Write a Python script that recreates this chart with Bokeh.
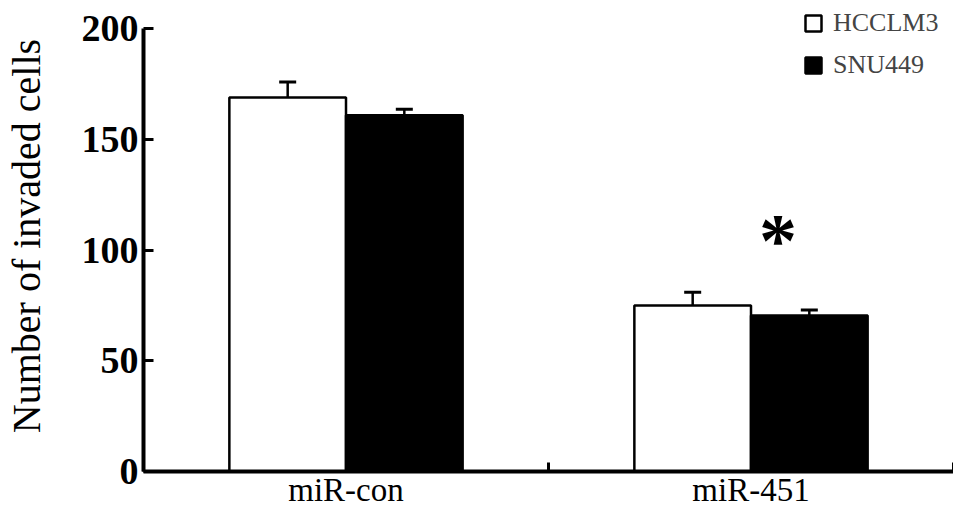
from bokeh.plotting import figure
from bokeh.models import (ColumnDataSource, Range1d, FixedTicker, Whisker, TeeHead,
                          Legend, LegendItem)
from bokeh.core.properties import value
from bokeh.embed import file_html
from bokeh.resources import INLINE

# ---- data ----
categories = ["miR-con", "miR-451"]
series_names = ["HCCLM3", "SNU449"]
hcclm3_mean = [169, 75]
hcclm3_err = [7, 6]
snu449_mean = [161, 70.5]
snu449_err = [2.7, 2.5]
significance = ["", "*"]
y_ticks = [0, 50, 100, 150, 200]
y_max = 200

FONT = "Liberation Serif"
bar_w = 0.288

centers = [i + 0.5 for i in range(len(categories))]

p = figure(width=953, height=510, output_backend="svg", toolbar_location=None,
           x_range=Range1d(0, len(categories)), y_range=Range1d(0, 212.8),
           min_border_left=141, min_border_right=0, min_border_top=0,
           min_border_bottom=36)
p.outline_line_color = None
p.xgrid.visible = False
p.ygrid.visible = False
p.background_fill_color = "white"
p.border_fill_color = "white"

src1 = ColumnDataSource(dict(x=[c - bar_w / 2 for c in centers], top=hcclm3_mean,
                             upper=[m + e for m, e in zip(hcclm3_mean, hcclm3_err)]))
src2 = ColumnDataSource(dict(x=[c + bar_w / 2 for c in centers], top=snu449_mean,
                             upper=[m + e for m, e in zip(snu449_mean, snu449_err)]))

r1 = p.vbar(x="x", top="top", width=bar_w, bottom=0, source=src1,
            fill_color="white", line_color="black", line_width=2.5)
r2 = p.vbar(x="x", top="top", width=bar_w, bottom=0, source=src2,
            fill_color="black", line_color="black", line_width=2.5)

for src in (src1, src2):
    w = Whisker(base="x", upper="upper", lower="top", source=src,
                line_color="black", line_width=2.5,
                upper_head=TeeHead(size=17, line_width=3, line_color="black"),
                lower_head=None, level="underlay")
    p.add_layout(w)

# significance marks
sig_src = ColumnDataSource(dict(
    x=centers,
    y=[max(a + b, c + d) for a, b, c, d in zip(hcclm3_mean, hcclm3_err, snu449_mean, snu449_err)],
    t=significance))
p.text(x="x", y="y", text="t", source=sig_src, text_font=value(FONT),
       text_font_size="76px", text_font_style="bold", text_align="center",
       text_baseline="alphabetic", x_offset=27, y_offset=-52, text_color="black")

# y axis
ya = p.yaxis[0]
ya.ticker = FixedTicker(ticks=y_ticks)
ya.bounds = (0, y_max)
ya.axis_line_width = 4
ya.major_tick_line_width = 3
ya.major_tick_in = 10
ya.major_tick_out = 0
ya.minor_tick_line_color = None
ya.minor_tick_in = 0
ya.minor_tick_out = 0
ya.major_label_text_font = FONT
ya.major_label_text_font_size = "38px"
ya.major_label_text_font_style = "bold"
ya.major_label_text_color = "black"
ya.major_label_standoff = 5
ya.axis_label = "Number of invaded cells"
ya.axis_label_text_font = FONT
ya.axis_label_text_font_size = "40px"
ya.axis_label_text_font_style = "normal"
ya.axis_label_text_color = "black"
ya.axis_label_standoff = 30

# x axis
xa = p.xaxis[0]
xa.ticker = FixedTicker(ticks=centers, minor_ticks=list(range(len(categories) + 1)))
xa.major_label_overrides = {c: name for c, name in zip(centers, categories)}
xa.axis_line_width = 4
xa.major_tick_line_color = None
xa.major_tick_in = 0
xa.major_tick_out = 0
xa.minor_tick_line_width = 3
xa.minor_tick_in = 9
xa.minor_tick_out = 0
xa.major_label_text_font = FONT
xa.major_label_text_font_size = "33px"
xa.major_label_text_color = "black"
xa.major_label_standoff = 0

legend = Legend(items=[LegendItem(label=series_names[0], renderers=[r1]),
                       LegendItem(label=series_names[1], renderers=[r2])],
                location=(660, 391))
legend.background_fill_alpha = 0
legend.border_line_color = None
legend.glyph_width = 20
legend.glyph_height = 20
legend.label_text_font = FONT
legend.label_text_font_size = "26px"
legend.label_standoff = 10
legend.spacing = 12
legend.padding = 0
legend.margin = 0
p.add_layout(legend)

open("out.html", "w").write(file_html(p, INLINE))
